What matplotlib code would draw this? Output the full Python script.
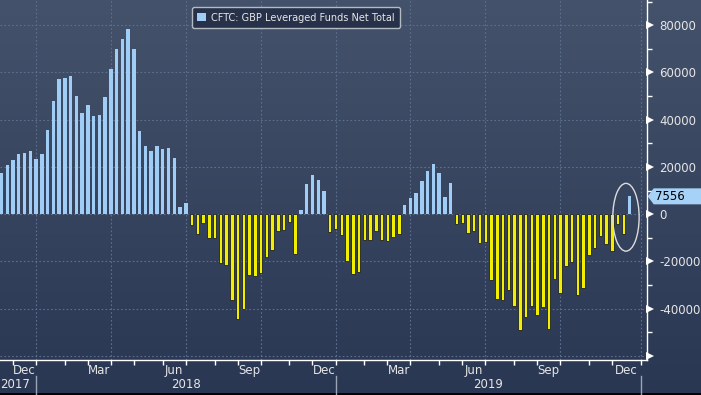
import numpy as np
import pandas as pd
import matplotlib
matplotlib.use("Agg")
import matplotlib.pyplot as plt
import matplotlib.dates as mdates
import matplotlib.transforms as mtransforms
from matplotlib.patches import Polygon, Ellipse

plt.rcParams['axes.unicode_minus'] = False
plt.rcParams['font.family'] = ['DejaVu Sans']

# weekly CFTC positioning (Tuesdays)
dates = pd.date_range('2017-11-21', periods=110, freq='7D')
net_total = [
    17450, 20850, 22980, 25530, 25960, 26810, 23400, 25530, 35740, 48080,
    57020, 57440, 58290, 50210, 42980, 46380, 41700, 42120, 49780, 61270,
    69780, 74040, 78590, 69780, 35320, 28930, 26810, 28930, 27660, 28080,
    23830, 2980, 4680, -4540, -8370, -3690, -10070, -10070, -20700, -21550,
    -36440, -44520, -40270, -25810, -26230, -24960, -18150, -15170, -7090, -6660,
    -3260, -16870, 1560, 12900, 16590, 14460, 9780, -7520, -6240, -8790,
    -19850, -25380, -24530, -10920, -10920, -7090, -10920, -11340, -9640, -8370,
    3830, 6810, 8930, 14040, 18290, 21270, 17440, 7230, 13190, -4110,
    -3690, -7940, -7090, -12190, -11770, -27930, -36020, -36440, -32190, -38990,
    -49200, -43670, -38990, -42820, -39420, -48780, -27510, -33460, -21980, -20280,
    -34320, -31340, -17300, -14320, -9220, -12620, -15460, -4110, -8370, 7556,
]
series_name = 'CFTC: GBP Leveraged Funds Net Total'
y_ticks = [-60000, -40000, -20000, 0, 20000, 40000, 60000, 80000]
month_labels = ['Dec', 'Mar', 'Jun', 'Sep']

BLUE = '#a0cdf6'
YELLOW = '#f2ee00'
TXT = '#e6e6e6'
GRID = '#5e7090'

fig = plt.figure(figsize=(7.01, 3.95), dpi=100)

# gradient background
bg = fig.add_axes([0, 0, 1, 1], zorder=-10)
grad = np.linspace(0, 1, 256).reshape(-1, 1)
cmap = matplotlib.colors.LinearSegmentedColormap.from_list('bg', ['#45526b', '#2a3753'])
bg.imshow(grad, aspect='auto', cmap=cmap, extent=[0, 1, 0, 1])
bg.axhline(0.002, color='black', lw=2)
bg.set_axis_off()

ax = fig.add_axes([0, 35 / 395, 646.7 / 701, 360 / 395])
ax.set_facecolor('none')

colors = [BLUE if v >= 0 else YELLOW for v in net_total]
edges = ['none' if v >= 0 else '#1e2228' for v in net_total]
bars = ax.bar(dates, net_total, width=4.2, color=colors, edgecolor=edges,
              linewidth=0.6, label=series_name, zorder=3)

left = dates[0] - pd.Timedelta(days=1.8)
ax.set_xlim(left, left + pd.Timedelta(days=786))
ax.set_ylim(-61730, 90670)

# axis ticks
month_starts = pd.date_range('2017-12-01', '2020-01-31', freq='WOM-1TUE')
quarter_starts = [d for d in month_starts if d.month in (1, 4, 7, 10)]
other_months = [d for d in month_starts if d.month not in (1, 4, 7, 10)]
ax.set_xticks(quarter_starts)
ax.set_xticks(other_months, minor=True)
ax.tick_params(axis='x', which='both', direction='out', length=3.5, width=1,
               color='white', labelbottom=False)

ax.yaxis.tick_right()
ax.set_yticks(y_ticks)
ax.set_yticklabels(['' if v == -60000 else str(v) for v in y_ticks])
ax.set_yticks([v + 10000 for v in y_ticks], minor=True)
ax.tick_params(axis='y', which='major', length=0, pad=9, labelsize=8.5, labelcolor=TXT)
ax.tick_params(axis='y', which='minor', length=3.5, width=1, color='white', direction='out')

ax.grid(axis='both', which='major', color=GRID, linestyle=(0, (1.5, 2)), lw=0.8, zorder=0)

for s in ['top', 'left']:
    ax.spines[s].set_visible(False)
for s in ['bottom', 'right']:
    ax.spines[s].set_color('white')
    ax.spines[s].set_linewidth(1)

# triangle markers on right axis
tri = ax.get_yaxis_transform() + mtransforms.ScaledTranslation(0.035, 0, fig.dpi_scale_trans)
ax.plot([1.0] * len(y_ticks), y_ticks, '>', color='white', ms=5.5, mew=0,
        transform=tri, clip_on=False, zorder=5)

# month and year labels
xtr = ax.get_xaxis_transform()
for i, d in enumerate(month_starts[:-1]):
    if d.strftime('%b') in month_labels:
        mid = d + (month_starts[i + 1] - d) / 2
        ax.text(mid, -0.028, d.strftime('%b'), transform=xtr, ha='center', va='center',
                fontsize=8.5, color=TXT)
jan_starts = [d for d in month_starts if d.month == 1]
for d in jan_starts:
    ax.plot([d, d], [-0.045, -0.1], color='#9aa4b5', lw=1, transform=xtr, clip_on=False)
ax.text(month_starts[0] + pd.Timedelta(days=3), -0.068, '2017', transform=xtr,
        ha='center', va='center', fontsize=8.5, color=TXT)
for a, b in zip(jan_starts[:-1], jan_starts[1:]):
    ax.text(a + (b - a) / 2, -0.068, str(a.year), transform=xtr, ha='center',
            va='center', fontsize=8.5, color=TXT)

# highlight the latest print
ring_x = mdates.date2num(dates[-1] - pd.Timedelta(days=4))
ax.add_patch(Ellipse((ring_x, -1300), width=32, height=28700, fill=False,
                     edgecolor='#dcdcdc', lw=1, zorder=4))

# value tag for last point
fig.canvas.draw()
px, py = ax.get_yaxis_transform().transform((1.0, net_total[-1]))
tag = Polygon([(px + 1, py), (px + 7, py + 8), (701, py + 8), (701, py - 8), (px + 7, py - 8)],
              closed=True, facecolor='#a6d2f7', edgecolor='none',
              transform=mtransforms.IdentityTransform(), zorder=6)
fig.patches.append(tag)
fig.text((px + 8.5) / 701, py / 395, str(net_total[-1]), ha='left', va='center',
         fontsize=8.5, color='black', zorder=7)

leg = ax.legend(handles=[bars.patches[0]], labels=[series_name], loc='upper left',
                bbox_to_anchor=(191.7 / 646.7, 1 - 7.3 / 360), borderaxespad=0,
                fontsize=7, frameon=True, fancybox=True, facecolor='#27324a',
                edgecolor='#b4bac4', framealpha=1, handlelength=0.9, handleheight=0.9,
                handletextpad=0.5, borderpad=0.55)
for t in leg.get_texts():
    t.set_color(TXT)

fig.savefig('out.png', dpi=100)
